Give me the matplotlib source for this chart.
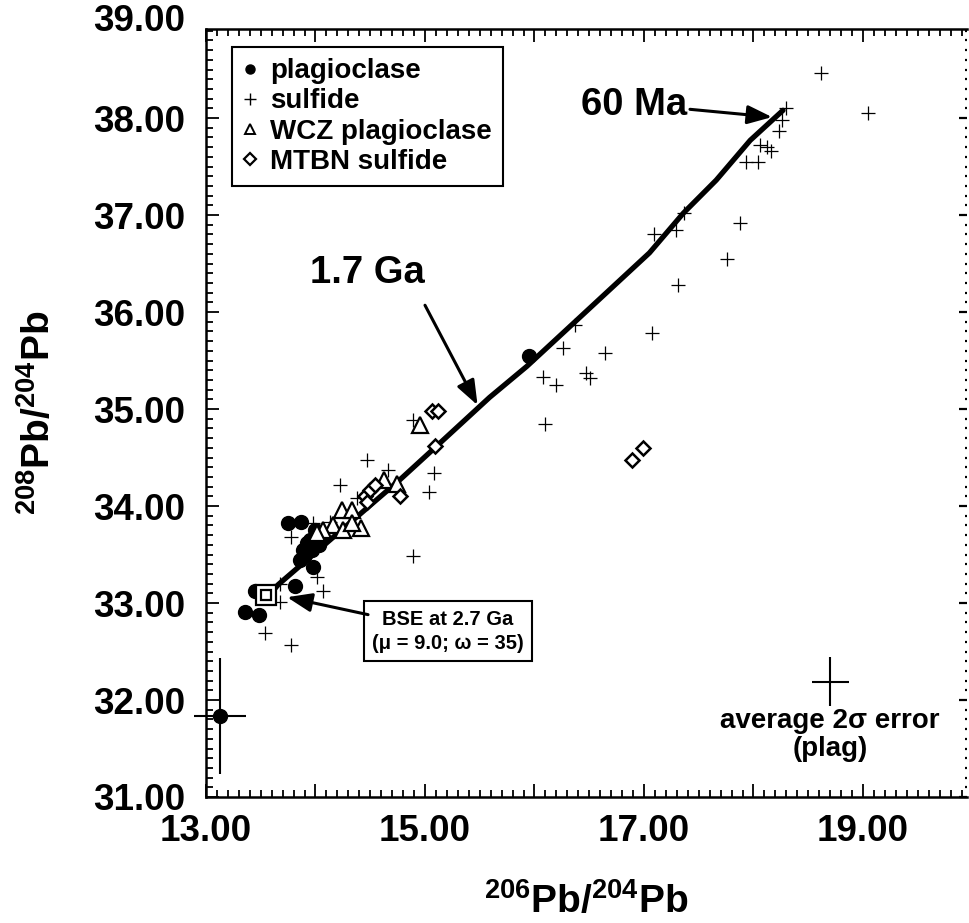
import matplotlib
matplotlib.use("Agg")
import matplotlib.pyplot as plt
from matplotlib.lines import Line2D
from matplotlib.ticker import MultipleLocator, FuncFormatter
import matplotlib.transforms as mtransforms

plt.rcParams['font.family'] = ['Liberation Sans', 'DejaVu Sans']
plt.rcParams['font.weight'] = 'bold'
plt.rcParams['mathtext.fontset'] = 'custom'
plt.rcParams['mathtext.rm'] = 'Liberation Sans:bold'
plt.rcParams['mathtext.bf'] = 'Liberation Sans:bold'

# ---------------- data ----------------
plag_x = [15.95, 13.75, 13.87, 13.95, 14.03, 13.89, 13.86, 13.98, 14.00, 13.92,
          13.90, 14.05, 13.97, 13.81, 13.45, 13.36, 13.48]
plag_y = [35.55, 33.82, 33.84, 33.65, 33.60, 33.55, 33.44, 33.37, 33.75, 33.62,
          33.50, 33.68, 33.55, 33.18, 33.12, 32.91, 32.88]

sulf_x = [18.62, 19.05, 18.30, 18.26, 18.23, 18.06, 18.12, 18.16, 17.93, 18.04,
          17.88, 17.76, 17.31, 17.09, 17.29, 17.37,
          16.37, 16.26, 16.64, 17.07, 16.08, 16.20, 16.47, 16.51, 16.10,
          14.89, 14.47, 14.22, 14.66, 15.08, 15.04, 13.98, 13.78, 14.13, 14.38,
          14.01, 14.07, 14.89, 13.68, 13.68, 13.54, 13.78]
sulf_y = [38.46, 38.05, 38.10, 37.98, 37.87, 37.72, 37.70, 37.66, 37.55, 37.55,
          36.92, 36.55, 36.28, 36.80, 36.85, 37.02,
          35.87, 35.63, 35.58, 35.78, 35.33, 35.25, 35.37, 35.32, 34.85,
          34.89, 34.47, 34.22, 34.37, 34.34, 34.14, 33.82, 33.68, 33.84, 34.08,
          33.27, 33.12, 33.48, 33.01, 33.20, 32.69, 32.57]

wcz_x = [14.95, 14.63, 14.74, 14.24, 14.33, 14.42, 14.16, 14.25, 14.33, 14.07, 14.01]
wcz_y = [34.84, 34.27, 34.23, 33.96, 33.96, 33.77, 33.80, 33.75, 33.82, 33.75, 33.72]

mtbn_x = [16.89, 16.99, 15.06, 15.12, 15.09, 14.77, 14.45, 14.50, 14.54, 14.47]
mtbn_y = [34.47, 34.60, 34.98, 34.98, 34.62, 34.10, 34.10, 34.16, 34.22, 34.04]

curve_x = [13.63, 13.66, 14.77, 15.07, 15.59, 15.93, 16.39, 17.05, 17.36, 17.66, 17.97, 18.27]
curve_y = [33.15, 33.19, 34.27, 34.58, 35.12, 35.44, 35.92, 36.61, 37.02, 37.36, 37.77, 38.08]

bse_x, bse_y = 13.55, 33.08
errpt_x, errpt_y, errpt_xerr, errpt_yerr = 13.128, 31.835, 0.24, 0.60
avg_x, avg_y, avg_xerr, avg_yerr = 18.70, 32.19, 0.17, 0.25

x_labels = [13, 15, 17, 19]
y_labels = [31, 32, 33, 34, 35, 36, 37, 38, 39]

# ---------------- figure ----------------
W, H = 969, 923
fig = plt.figure(figsize=(W / 100, H / 100), dpi=100)
L, R, T, B = 206, 967, 29, 797
ax = fig.add_axes([L / W, 1 - B / H, (R - L) / W, (B - T) / H])
ax.set_xlim(13, 19.95)
ax.set_ylim(31, 38.918)

# model curve
ax.plot(curve_x, curve_y, color='k', lw=3.8, solid_capstyle='round', zorder=3)

ax.plot(sulf_x, sulf_y, ls='none', marker='+', ms=9.5, mew=0.9, color='k', zorder=4)
ax.plot(plag_x, plag_y, ls='none', marker='o', ms=10, color='k', zorder=5)
ax.plot(wcz_x, wcz_y, ls='none', marker='^', ms=11, mfc='white', mec='k', mew=1.6, zorder=5)
ax.plot(mtbn_x, mtbn_y, ls='none', marker='D', ms=7, mfc='white', mec='k', mew=1.8, zorder=5)

# BSE double square
ax.plot([bse_x], [bse_y], marker='s', ms=14, mfc='white', mec='k', mew=1.6, zorder=6)
ax.plot([bse_x], [bse_y], marker='s', ms=7.5, mfc='white', mec='k', mew=1.6, zorder=7)

# point with error bars
eb = ax.errorbar([errpt_x], [errpt_y], xerr=[errpt_xerr], yerr=[errpt_yerr], fmt='o',
                 color='k', ms=10, elinewidth=1.5, capsize=0, zorder=6)
for art in eb.get_children():
    art.set_clip_on(False)
eb[0].set_clip_on(False)

# average error cross
ax.errorbar([avg_x], [avg_y], xerr=[avg_xerr], yerr=[avg_yerr], fmt='none',
            ecolor='k', elinewidth=1.5, capsize=0)
ax.text(avg_x, avg_y - avg_yerr - 0.02, 'average 2\u03c3 error\n(plag)', ha='center', va='top',
        fontsize=20, fontweight='bold', linespacing=1.12)

# annotations
arrow = dict(arrowstyle='-|>,head_length=1.0,head_width=0.38', color='k', lw=2.2,
             shrinkA=0, shrinkB=0, mutation_scale=15)
ax.text(16.91, 38.13, '60 Ma', fontsize=27.5, fontweight='bold', ha='center', va='center')
ax.annotate('', xy=(18.17, 38.01), xytext=(17.42, 38.09), arrowprops=arrow)

ax.text(14.47, 36.40, '1.7 Ga', fontsize=27.5, fontweight='bold', ha='center', va='center')
ax.annotate('', xy=(15.48, 35.04), xytext=(15.0, 36.07), arrowprops=arrow)

ax.text(15.21, 32.71, 'BSE at 2.7 Ga\n(\u03bc = 9.0; \u03c9 = 35)', fontsize=14.5,
        fontweight='bold', ha='center', va='center', linespacing=1.35,
        bbox=dict(boxstyle='square,pad=0.4', fc='white', ec='k', lw=1.5))
ax.annotate('', xy=(13.74, 33.06), xytext=(14.48, 32.88), arrowprops=arrow)

# legend
handles = [
    Line2D([], [], ls='none', marker='o', ms=6.5, color='k'),
    Line2D([], [], ls='none', marker='+', ms=8, mew=1.0, color='k'),
    Line2D([], [], ls='none', marker='^', ms=7.5, mfc='white', mec='k', mew=1.4),
    Line2D([], [], ls='none', marker='D', ms=6, mfc='white', mec='k', mew=1.6),
]
labels = ['plagioclase', 'sulfide', 'WCZ plagioclase', 'MTBN sulfide']
leg = ax.legend(handles, labels, loc='upper left', bbox_to_anchor=(0.034, 0.977),
                borderaxespad=0, fancybox=False, framealpha=1, edgecolor='k',
                prop=dict(size=20, weight='bold'), handlelength=0.5, handletextpad=0.45,
                labelspacing=0.15, borderpad=0.42)
leg.get_frame().set_linewidth(1.5)

# axes styling
for s in ['left', 'bottom', 'top']:
    ax.spines[s].set_linewidth(1.8)
ax.spines['right'].set_visible(False)

ax.xaxis.set_major_locator(MultipleLocator(1))
ax.xaxis.set_minor_locator(MultipleLocator(0.1))
ax.yaxis.set_major_locator(MultipleLocator(1))
ax.yaxis.set_minor_locator(MultipleLocator(0.1))
ax.xaxis.set_major_formatter(FuncFormatter(
    lambda v, p: f'{v:.2f}' if round(v) in x_labels and abs(v - round(v)) < 1e-6 else ''))
ax.yaxis.set_major_formatter(FuncFormatter(lambda v, p: f'{v:.2f}'))

ax.tick_params(which='both', direction='in', top=True, right=False, width=1.3)
ax.tick_params(which='major', length=9.5)
ax.tick_params(which='minor', length=5)
ax.tick_params(axis='x', which='major', pad=12, labelsize=26.5)
ax.tick_params(axis='y', which='major', pad=15, labelsize=26.5)
for lab in ax.get_xticklabels() + ax.get_yticklabels():
    lab.set_fontweight('bold')

# 39.00 label sits just above the frame
trans = mtransforms.offset_copy(ax.get_yaxis_transform(), fig=fig, x=-15, y=0, units='points')
ax.text(0, y_labels[-1], f'{y_labels[-1]:.2f}', transform=trans, ha='right', va='center',
        fontsize=26.5, fontweight='bold', clip_on=False)

# right side: dotted ticks without spine
sec = ax.secondary_yaxis('right')
sec.spines['right'].set_visible(False)
sec.yaxis.set_major_locator(MultipleLocator(1))
sec.yaxis.set_minor_locator(MultipleLocator(0.1))
sec.tick_params(which='both', direction='in', labelright=False, width=1.6)
sec.tick_params(which='major', length=6)
sec.tick_params(which='minor', length=1.3)

ax.set_xlabel(r'$^{206}$Pb/$^{204}$Pb', fontsize=28, fontweight='bold', labelpad=24)
ax.set_ylabel(r'$^{208}$Pb/$^{204}$Pb', fontsize=28, fontweight='bold', labelpad=25)

fig.savefig('out.png', dpi=100)
